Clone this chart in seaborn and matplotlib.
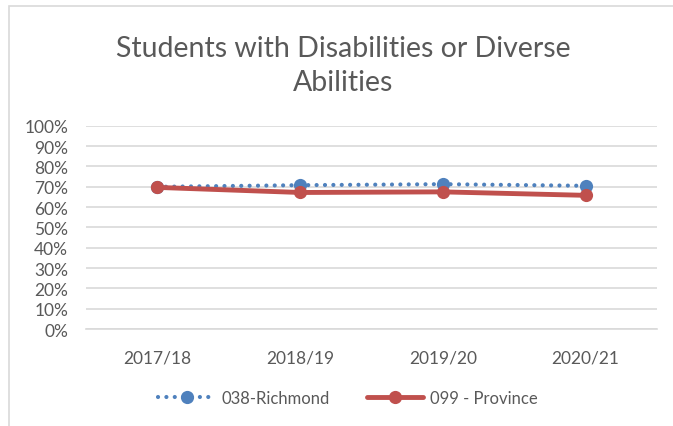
import matplotlib
matplotlib.use("Agg")
import matplotlib.pyplot as plt
import seaborn as sns
import pandas as pd
from matplotlib.patches import Rectangle
from matplotlib.ticker import PercentFormatter

years = ["2017/18", "2018/19", "2019/20", "2020/21"]
richmond = [0.70, 0.708, 0.713, 0.705]
province = [0.697, 0.672, 0.675, 0.658]
series_names = ["038-Richmond", "099 - Province"]

df = pd.DataFrame({
    "year": years * 2,
    "value": richmond + province,
    "series": [series_names[0]] * 4 + [series_names[1]] * 4,
})

sns.set_style("white")
plt.rcParams["font.family"] = ["Lato", "DejaVu Sans"]

fig = plt.figure(figsize=(6.73, 4.27), dpi=100)
ax = fig.add_axes([0.128, 0.227, 0.848, 0.476])

blue = "#4F81BD"
red = "#C0504D"

d1 = df[df.series == series_names[0]]
d2 = df[df.series == series_names[1]]
sns.lineplot(data=d1, x="year", y="value", ax=ax, color=blue, linewidth=3,
             marker="o", markersize=9.5, markeredgewidth=0, sort=False,
             label=series_names[0], dashes=False)
sns.lineplot(data=d2, x="year", y="value", ax=ax, color=red, linewidth=3.5,
             marker="o", markersize=9.5, markeredgewidth=0, sort=False,
             label=series_names[1], dashes=False)
l1 = ax.lines[0]
l1.set_linestyle((0, (0.01, 2.0)))
l1.set_dash_capstyle("round")
ax.lines[1].set_solid_capstyle("round")

ax.set_xlim(-0.5, 3.5)
ax.set_ylim(0, 1.0)
ax.set_yticks([i / 10 for i in range(11)])
ax.yaxis.set_major_formatter(PercentFormatter(1.0, decimals=0))
ax.grid(axis="y", color="#D9D9D9", linewidth=1.2)
ax.set_axisbelow(True)
for s in ["left", "right", "top"]:
    ax.spines[s].set_visible(False)
ax.spines["bottom"].set_color("#D9D9D9")
ax.spines["bottom"].set_linewidth(1.2)
ax.tick_params(axis="both", length=0, labelsize=12.5, colors="#595959")
ax.tick_params(axis="y", pad=13)
ax.tick_params(axis="x", pad=15)
ax.set_xlabel("")
ax.set_ylabel("")

fig.text(343 / 673, 1 - 66 / 427, "Students with Disabilities or Diverse\nAbilities",
         fontsize=20.5, color="#595959", ha="center", va="center", linespacing=1.4)

handles, labels = ax.get_legend_handles_labels()
if ax.legend_:
    ax.legend_.remove()
leg = fig.legend(handles, labels, loc="center", bbox_to_anchor=(348 / 673, 1 - 399 / 427),
                 ncol=2, frameon=False, fontsize=12, handlelength=3.4,
                 columnspacing=2.2, handletextpad=0.4)
for t in leg.get_texts():
    t.set_color("#595959")
leg.get_lines()[0].set_linestyle((0, (0.01, 2.0)))
leg.get_lines()[0].set_dash_capstyle("round")

fig.patches.append(Rectangle((9 / 673, -0.1), 1.1, 1 - 7 / 427 + 0.1,
                             transform=fig.transFigure, fill=False,
                             edgecolor="#D9D9D9", linewidth=1.2))

fig.savefig("out.png", dpi=100)
